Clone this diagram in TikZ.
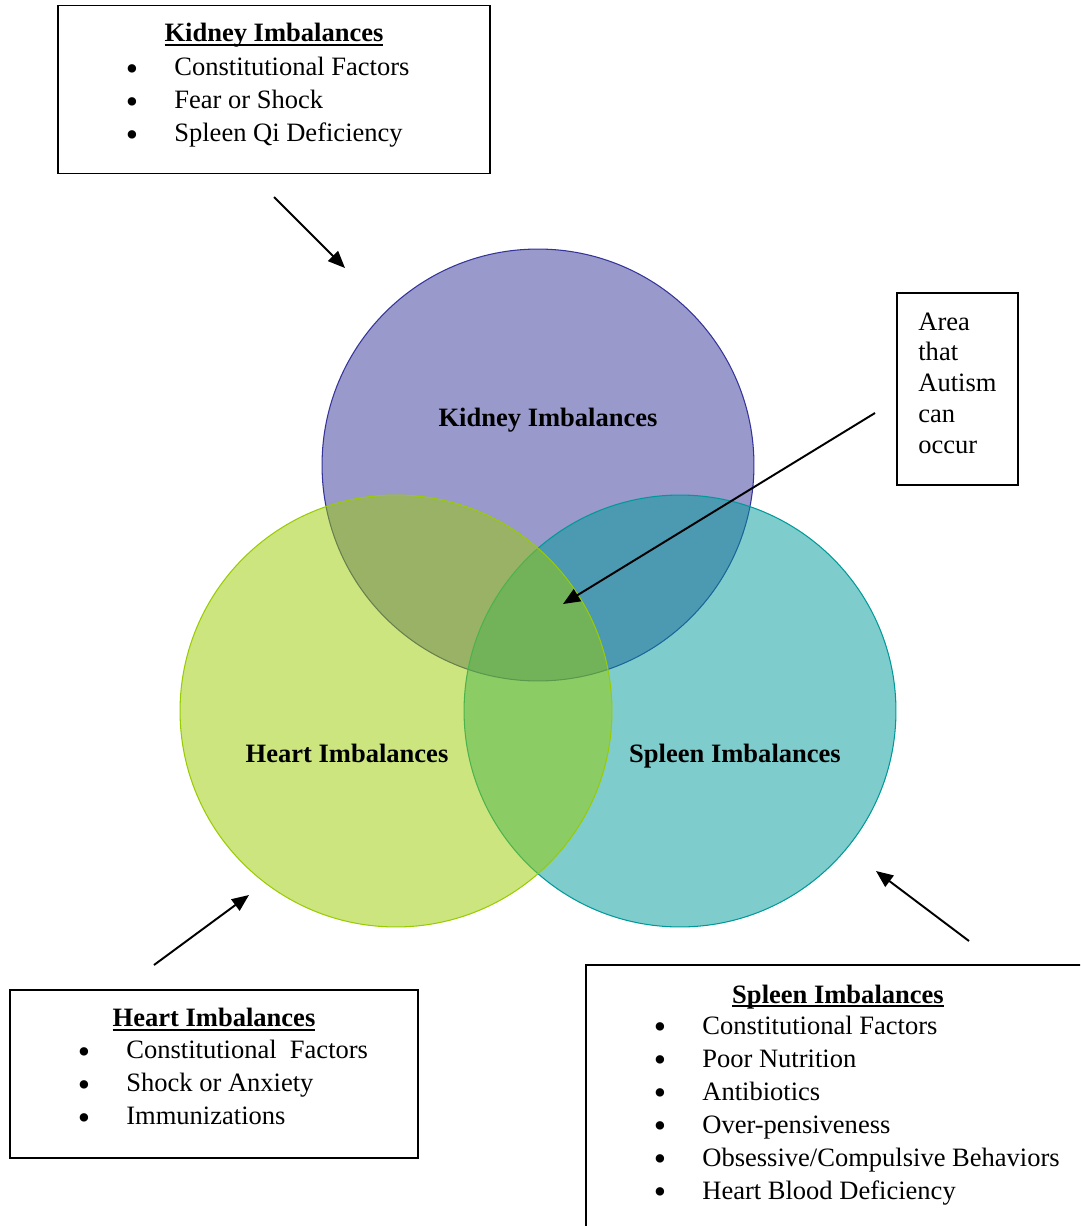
\documentclass[tikz,border=0pt]{standalone}
\usepackage{fontspec}
\setmainfont{Liberation Serif}
\usetikzlibrary{arrows.meta}
\definecolor{kidneyc}{HTML}{333399}
\definecolor{heartc}{HTML}{99CC00}
\definecolor{spleenc}{HTML}{009999}
\newcommand{\itm}{\makebox[0.94cm][l]{\hspace{-0.03cm}\smash{\raisebox{-2.6pt}{\fontsize{20}{0}\selectfont\textbullet}}}}
\newcommand{\ulin}[1]{\setbox0\hbox{#1}\rlap{\rule[-0.16em]{\wd0}{0.07em}}\box0}
\tikzset{
  bx/.style={rectangle, draw=black, line width=1pt, inner sep=0pt},
  ring/.style={circle, minimum size=8.64cm, inner sep=0pt, outer sep=0pt, line width=0.6pt, fill opacity=0.5},
  lbl/.style={inner sep=0pt, font=\fontsize{15.1}{18.8}\selectfont\bfseries},
  txt/.style={inner sep=0pt, font=\fontsize{15.1}{18.8}\selectfont, align=left},
  ttl/.style={inner sep=0pt, font=\fontsize{15.1}{18.8}\selectfont\bfseries},
  ar/.style={-{Triangle[length=0.34cm,width=0.28cm]}, line width=1.1pt}
}
\begin{document}
\begin{tikzpicture}[x=0.02cm, y=-0.02cm]
	\path[use as bounding box] (0,0) rectangle (1080,1226);
	\clip (0,0) rectangle (1080,1226);
	% circles
	\node[ring, draw=kidneyc, fill=kidneyc] (kidney) at (538,465) {};
	\node[ring, draw=spleenc, fill=spleenc] (spleen) at (680,711) {};
	\node[ring, draw=heartc, fill=heartc] (heart) at (396,711) {};
	\node[lbl, anchor=base] (kidneylbl) at (548,426) {Kidney Imbalances};
	\node[lbl, anchor=base] (heartlbl) at (347,762) {Heart Imbalances};
	\node[lbl, anchor=base] (spleenlbl) at (735,762) {Spleen Imbalances};
	% boxes
	\node[bx, minimum width=8.64cm, minimum height=3.36cm] (kbox) at (274,89.5) {};
	\node[ttl, anchor=base] (ktitle) at (274,42) {\ulin{Kidney Imbalances}};
	\node[txt, anchor=base west] (klist) at (127,75.5) {\begin{tabular}[t]{@{}l@{}}\itm Constitutional Factors\\ \itm Fear or Shock\\ \itm Spleen Qi Deficiency\end{tabular}};

	\node[bx, minimum width=8.16cm, minimum height=3.36cm] (hbox) at (214,1074) {};
	\node[ttl, anchor=base] (htitle) at (214,1026.5) {\ulin{Heart Imbalances}};
	\node[txt, anchor=base west] (hlist) at (79,1058.5) {\begin{tabular}[t]{@{}l@{}}\itm Constitutional\ \ Factors\\ \itm Shock or Anxiety\\ \itm Immunizations\end{tabular}};

	\draw[line width=1pt] (1100,965) -| (586,1250);
	\node[ttl, anchor=base] (stitle) at (838,1003) {\ulin{Spleen Imbalances}};
	\node[txt, anchor=base west] (slist) at (655,1034) {\begin{tabular}[t]{@{}l@{}}\itm Constitutional Factors\\ \itm Poor Nutrition\\ \itm Antibiotics\\ \itm Over-pensiveness\\ \itm Obsessive/Compulsive Behaviors\\ \itm Heart Blood Deficiency\end{tabular}};

	\node[bx, minimum width=2.42cm, minimum height=3.84cm] (abox) at (957.5,389) {};
	\node[txt, anchor=base west, font=\fontsize{15.1}{17.6}\selectfont] (atext) at (918,330) {\begin{tabular}[t]{@{}l@{}}Area\\ that\\ Autism\\ can\\ occur\end{tabular}};
	% arrows
	\coordinate (ka) at (274,197);
	\coordinate (kb) at (345,268);
	\coordinate (ha) at (154,965);
	\coordinate (hb) at (249,895);
	\coordinate (sa) at (969,941);
	\coordinate (sb) at (876,871);
	\coordinate (aa) at (875,413);
	\coordinate (ab) at (563,604);
	\draw[ar] (ka) -- (kb);
	\draw[ar] (ha) -- (hb);
	\draw[ar] (sa) -- (sb);
	\draw[ar] (aa) -- (ab);
\end{tikzpicture}
\end{document}
